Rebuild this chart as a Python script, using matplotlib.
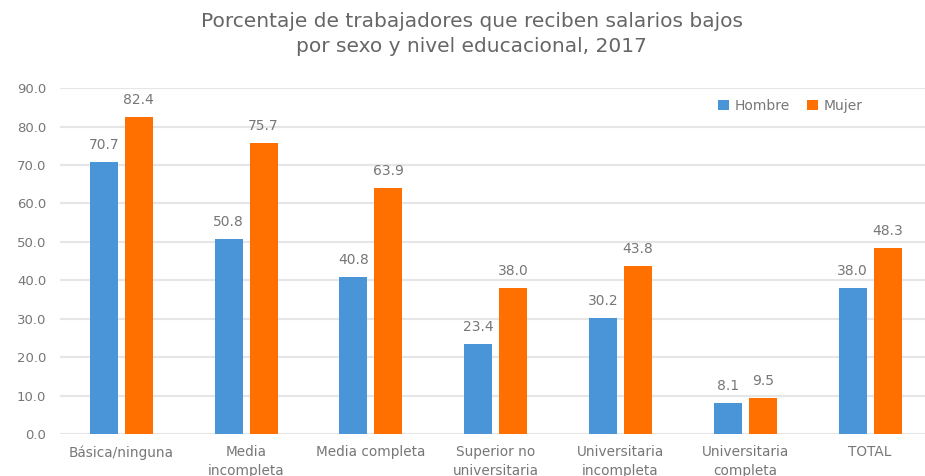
import matplotlib
matplotlib.use("Agg")
import matplotlib.pyplot as plt
import numpy as np

# data
categorias = ["Básica/ninguna", "Media\nincompleta", "Media completa",
              "Superior no\nuniversitaria", "Universitaria\nincompleta",
              "Universitaria\ncompleta", "TOTAL"]
hombre = [70.7, 50.8, 40.8, 23.4, 30.2, 8.1, 38.0]
mujer = [82.4, 75.7, 63.9, 38.0, 43.8, 9.5, 48.3]
yticks = np.arange(0, 100, 10)

azul = "#4A94D8"
naranja = "#FF7000"
gris = "#777777"


def main():
    fig = plt.figure(figsize=(9.25, 4.76), dpi=100)
    ax = fig.add_axes([0.065, 0.088, 0.935, 0.727])

    x = np.arange(len(categorias))
    w = 0.224
    off = 0.14
    b1 = ax.bar(x - off, hombre, w, color=azul, label="Hombre", zorder=3)
    b2 = ax.bar(x + off, mujer, w, color=naranja, label="Mujer", zorder=3)

    for bars in (b1, b2):
        for r in bars:
            ax.text(r.get_x() + r.get_width() / 2, r.get_height() + 2.6,
                    "%.1f" % r.get_height(), ha="center", va="bottom",
                    fontsize=10, color=gris)

    ax.set_ylim(0, 90)
    ax.set_xlim(-0.49, 6.44)
    ax.set_yticks(yticks)
    ax.set_yticklabels(["%.1f" % v for v in yticks], fontsize=9.5, color=gris)
    ax.set_xticks(x)
    ax.set_xticklabels(categorias, fontsize=9.8, color=gris, linespacing=1.4)
    ax.tick_params(length=0, pad=10, axis="y")
    ax.tick_params(length=0, pad=8, axis="x")
    ax.grid(axis="y", color="#E6E6E6", linewidth=1.5, zorder=0)
    for s in ax.spines.values():
        s.set_visible(False)

    ax.legend(loc="upper right", bbox_to_anchor=(0.942, 1.005), ncol=2,
              frameon=False, fontsize=10, handlelength=0.8, handleheight=0.8,
              columnspacing=1.2, handletextpad=0.4, labelcolor=gris)

    fig.suptitle("Porcentaje de trabajadores que reciben salarios bajos\n"
                 "por sexo y nivel educacional, 2017",
                 x=0.51, y=0.975, fontsize=14.5, color="#666666", linespacing=1.4)

    fig.savefig("out.png", dpi=100)


if __name__ == '__main__':
    main()
